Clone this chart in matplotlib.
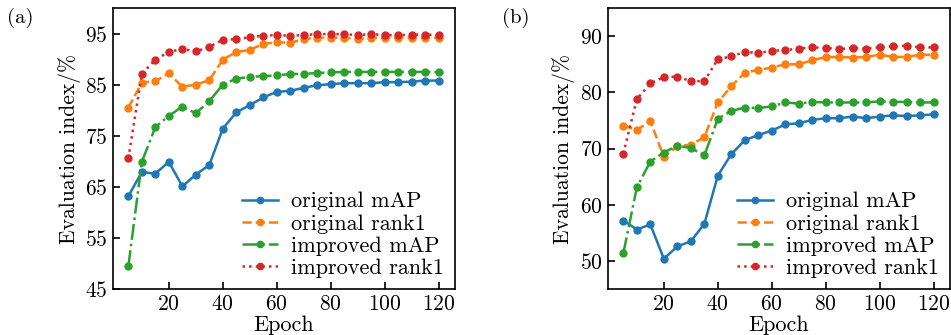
import numpy as np
import matplotlib.pyplot as plt

plt.rcParams['font.family'] = ['cmr10', 'DejaVu Serif']
plt.rcParams['mathtext.fontset'] = 'cm'
plt.rcParams['axes.formatter.use_mathtext'] = True

epochs = np.arange(5, 121, 5)

# panel (a)
a_orig_map = [63.2, 67.9, 67.6, 69.9, 65.1, 67.4, 69.3, 76.4, 79.6, 81.0, 82.5, 83.6,
              83.8, 84.4, 84.9, 85.1, 85.3, 85.3, 85.3, 85.5, 85.5, 85.6, 85.8, 85.8]
a_orig_rank1 = [80.5, 85.4, 85.7, 87.2, 84.6, 85.0, 85.9, 89.9, 91.4, 91.8, 93.0, 93.3,
                93.2, 93.9, 94.2, 94.2, 94.2, 93.9, 94.2, 94.2, 94.2, 94.2, 94.2, 94.2]
a_impr_map = [49.5, 69.9, 76.7, 78.9, 80.7, 79.4, 81.8, 85.0, 86.2, 86.5, 86.7, 86.8,
              87.1, 87.1, 87.3, 87.4, 87.5, 87.5, 87.5, 87.5, 87.5, 87.5, 87.5, 87.5]
a_impr_rank1 = [70.6, 87.1, 89.9, 91.4, 92.0, 91.5, 92.4, 93.8, 93.9, 94.3, 94.6, 94.7,
                94.6, 94.7, 94.9, 94.9, 94.9, 94.7, 94.9, 94.7, 94.7, 94.8, 94.8, 94.7]

# panel (b)
b_orig_map = [57.2, 55.6, 56.5, 50.4, 52.6, 53.5, 56.6, 65.2, 69.0, 71.5, 72.4, 73.2,
              74.3, 74.5, 75.1, 75.4, 75.4, 75.7, 75.4, 75.7, 75.9, 75.8, 75.9, 76.1]
b_orig_rank1 = [74.1, 73.3, 74.9, 68.5, 70.4, 70.7, 72.0, 78.2, 81.1, 83.5, 84.0, 84.4,
                85.0, 85.0, 85.7, 86.3, 86.3, 86.2, 86.3, 86.7, 86.3, 86.3, 86.7, 86.7]
b_impr_map = [51.4, 63.1, 67.7, 69.3, 70.5, 70.1, 68.8, 75.3, 76.7, 77.3, 77.2, 77.5,
              78.2, 78.0, 78.3, 78.2, 78.2, 78.2, 78.2, 78.4, 78.3, 78.3, 78.2, 78.2]
b_impr_rank1 = [69.1, 78.8, 81.6, 82.7, 82.8, 82.0, 82.0, 85.9, 86.4, 87.2, 87.0, 87.4,
                87.5, 87.8, 88.0, 87.9, 87.7, 87.9, 87.8, 88.0, 88.2, 88.3, 88.0, 88.0]

labels = ['original mAP', 'original rank1', 'improved mAP', 'improved rank1']
colors = ['#1f77b4', '#ff7f0e', '#2ca02c', '#d62728']
styles = ['-', '--', '-.', ':']

fig = plt.figure(figsize=(9.51, 3.35), dpi=100)
ax1 = fig.add_axes([0.1188, 0.137, 0.3596, 0.839])
ax2 = fig.add_axes([0.6393, 0.137, 0.3596, 0.839])

panels = [
    (ax1, [a_orig_map, a_orig_rank1, a_impr_map, a_impr_rank1], (45, 100), [45, 55, 65, 75, 85, 95], '(a)'),
    (ax2, [b_orig_map, b_orig_rank1, b_impr_map, b_impr_rank1], (45, 95), [50, 60, 70, 80, 90], '(b)'),
]

for ax, series, ylim, yticks, tag in panels:
    for vals, lab, c, ls in zip(series, labels, colors, styles):
        ax.plot(epochs, vals, linestyle=ls, color=c, marker='o', markersize=5,
                linewidth=1.8, label=lab)
    ax.set_xlim(-0.7, 126)
    ax.set_ylim(*ylim)
    ax.set_xticks([20, 40, 60, 80, 100, 120])
    ax.set_yticks(yticks)
    ax.tick_params(direction='in', labelsize=15.5, length=5, width=1.2, pad=4)
    for s in ax.spines.values():
        s.set_linewidth(1.2)
    ax.set_xlabel('Epoch', fontsize=16, labelpad=1)
    ax.set_ylabel('Evaluation index/%', fontsize=15.5, labelpad=3)
    ax.legend(loc='lower right', frameon=False, fontsize=16, handlelength=1.6,
              handletextpad=0.6, labelspacing=0.12, borderaxespad=0.1,
              markerscale=0.9)
    ax.text(-0.31, 1.0, tag, transform=ax.transAxes, fontsize=15, va='top', ha='left')

fig.savefig('out.png', dpi=100)
